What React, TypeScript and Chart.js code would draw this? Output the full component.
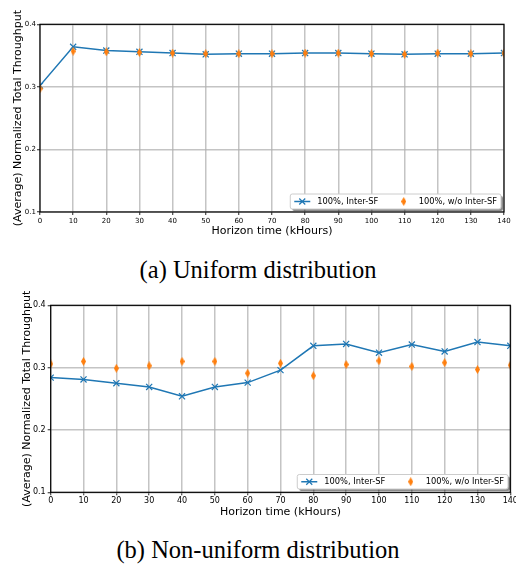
import { useEffect, useRef } from 'react';
import { Chart, registerables } from 'chart.js';

Chart.register(...registerables);

// ---------------- data ----------------
const hours = [0, 10, 20, 30, 40, 50, 60, 70, 80, 90, 100, 110, 120, 130, 140];
const uniformInterSF = [0.302, 0.364, 0.358, 0.356, 0.354, 0.352, 0.353, 0.353, 0.354, 0.354, 0.353, 0.352, 0.353, 0.353, 0.354];
const uniformNoInterSF = [0.297, 0.357, 0.356, 0.355, 0.354, 0.353, 0.353, 0.353, 0.354, 0.354, 0.353, 0.352, 0.354, 0.353, 0.354];
const nonUniformInterSF = [0.284, 0.281, 0.275, 0.269, 0.254, 0.269, 0.276, 0.296, 0.335, 0.338, 0.324, 0.337, 0.326, 0.341, 0.335];
const nonUniformNoInterSF = [0.306, 0.310, 0.299, 0.303, 0.310, 0.310, 0.291, 0.307, 0.287, 0.305, 0.311, 0.302, 0.308, 0.297, 0.304];
const xTicks = [0, 10, 20, 30, 40, 50, 60, 70, 80, 90, 100, 110, 120, 130, 140];
const yTicks = [0.1, 0.2, 0.3, 0.4];
const labelInterSF = '100%, Inter-SF';
const labelNoInterSF = '100%, w/o Inter-SF';
const xTitle = 'Horizon time (kHours)';
const yTitle = '(Average) Normalized Total Throughput';
const captionA = '(a) Uniform distribution';
const captionB = '(b) Non-uniform distribution';

// ---------------- styles ----------------
const BLUE = '#1f77b4';
const ORANGE = '#ff7f0e';
const FONT = '"DejaVu Sans", sans-serif';
const GRID = 'rgba(176,176,176,0.75)';

function makeThinDiamond(w: number, h: number, color: string) {
  const c = document.createElement('canvas');
  c.width = w;
  c.height = h;
  const ctx = c.getContext('2d')!;
  ctx.fillStyle = color;
  ctx.beginPath();
  ctx.moveTo(w / 2, 0);
  ctx.lineTo(w, h / 2);
  ctx.lineTo(w / 2, h);
  ctx.lineTo(0, h / 2);
  ctx.closePath();
  ctx.fill();
  return c;
}

function roundRectPath(ctx: CanvasRenderingContext2D, x: number, y: number, w: number, h: number, r: number) {
  ctx.beginPath();
  ctx.moveTo(x + r, y);
  ctx.lineTo(x + w - r, y);
  ctx.arcTo(x + w, y, x + w, y + r, r);
  ctx.lineTo(x + w, y + h - r);
  ctx.arcTo(x + w, y + h, x + w - r, y + h, r);
  ctx.lineTo(x + r, y + h);
  ctx.arcTo(x, y + h, x, y + h - r, r);
  ctx.lineTo(x, y + r);
  ctx.arcTo(x, y, x + r, y, r);
  ctx.closePath();
}

const legendPlugin = {
  id: 'mplLegend',
  afterDatasetsDraw(chart: any, _args: any, opts: any) {
    const { ctx, chartArea } = chart;
    const ds = chart.data.datasets;
    ctx.save();
    ctx.font = `8.3px ${FONT}`;
    const pad = 4, handle = 16, htp = 7, col = 17.5;
    const w1 = ctx.measureText(ds[0].label).width;
    const w2 = ctx.measureText(ds[1].label).width;
    const W = pad + handle + htp + w1 + col + handle + htp + w2 + pad;
    const H = opts.height;
    const right = chartArea.right - opts.offsetRight;
    const bottom = chartArea.bottom - opts.offsetBottom;
    const left = right - W;
    const top = bottom - H;
    ctx.fillStyle = 'rgba(0,0,0,0.45)';
    roundRectPath(ctx, left + 2, top + 2, W, H, 2);
    ctx.fill();
    ctx.fillStyle = '#ffffff';
    ctx.strokeStyle = '#cccccc';
    ctx.lineWidth = 1;
    roundRectPath(ctx, left, top, W, H, 2);
    ctx.fill();
    ctx.stroke();
    const cy = top + H / 2;
    let x = left + pad;
    ctx.strokeStyle = BLUE;
    ctx.lineWidth = 1.5;
    ctx.beginPath();
    ctx.moveTo(x, cy);
    ctx.lineTo(x + handle, cy);
    ctx.stroke();
    const mx = x + handle / 2;
    const d = 3;
    ctx.lineWidth = 1.2;
    ctx.beginPath();
    ctx.moveTo(mx - d, cy - d);
    ctx.lineTo(mx + d, cy + d);
    ctx.moveTo(mx - d, cy + d);
    ctx.lineTo(mx + d, cy - d);
    ctx.stroke();
    x += handle + htp;
    ctx.fillStyle = '#000';
    ctx.textBaseline = 'middle';
    ctx.textAlign = 'left';
    ctx.fillText(ds[0].label, x, cy);
    x += w1 + col;
    const img = ds[1].pointStyle as HTMLCanvasElement;
    ctx.drawImage(img, x + handle / 2 - img.width / 2, cy - img.height / 2);
    x += handle + htp;
    ctx.fillStyle = '#000';
    ctx.fillText(ds[1].label, x, cy);
    ctx.restore();
  },
};

const framePlugin = {
  id: 'frame',
  afterDraw(chart: any) {
    const { ctx, chartArea } = chart;
    ctx.save();
    ctx.strokeStyle = '#000';
    ctx.lineWidth = 1.2;
    ctx.strokeRect(chartArea.left, chartArea.top, chartArea.right - chartArea.left, chartArea.bottom - chartArea.top);
    ctx.restore();
  },
};

type Cfg = {
  inter: number[];
  noInter: number[];
  padTop: number;
  padRight: number;
  xAxisHeight: number;
  yAxisWidth: number;
  tickSize: number;
  xTickPad: number;
  yTickPad: number;
  xTitlePadBottom: number;
  yTitlePadTop: number;
  legendHeight: number;
  legendOffsetRight: number;
  legendOffsetBottom: number;
};

function makeConfig(cfg: Cfg): any {
  const diamond = makeThinDiamond(5, 9, ORANGE);
  return {
    type: 'line',
    data: {
      datasets: [
        {
          label: labelInterSF,
          data: hours.map((h, i) => ({ x: h, y: cfg.inter[i] })),
          borderColor: BLUE,
          backgroundColor: BLUE,
          borderWidth: 1.5,
          pointStyle: 'crossRot',
          pointRadius: 4.3,
          pointBorderWidth: 1.2,
          pointBorderColor: BLUE,
          pointBackgroundColor: BLUE,
          tension: 0,
          clip: 0,
          order: 1,
        },
        {
          label: labelNoInterSF,
          data: hours.map((h, i) => ({ x: h, y: cfg.noInter[i] })),
          showLine: false,
          borderColor: ORANGE,
          backgroundColor: ORANGE,
          pointStyle: diamond,
          pointRadius: 4,
          clip: 0,
          order: 0,
        },
      ],
    },
    options: {
      animation: false,
      responsive: false,
      events: [],
      layout: { padding: { left: 0, right: cfg.padRight, top: cfg.padTop, bottom: 0 } },
      plugins: {
        legend: { display: false },
        tooltip: { enabled: false },
        mplLegend: {
          height: cfg.legendHeight,
          offsetRight: cfg.legendOffsetRight,
          offsetBottom: cfg.legendOffsetBottom,
        },
      },
      scales: {
        x: {
          type: 'linear',
          min: 0,
          max: 140,
          afterBuildTicks: (s: any) => {
            s.ticks = xTicks.map((v) => ({ value: v }));
          },
          afterFit: (s: any) => {
            s.height = cfg.xAxisHeight;
            s.paddingLeft = 0;
            s.paddingRight = 0;
          },
          grid: { color: GRID, lineWidth: 1.5, drawTicks: true, tickLength: 3, tickColor: '#222', tickWidth: 1 },
          border: { display: false },
          ticks: {
            font: { family: FONT, size: cfg.tickSize },
            color: '#000',
            padding: cfg.xTickPad,
            maxRotation: 0,
            autoSkip: false,
            callback: (v: any) => String(v),
          },
          title: {
            display: true,
            text: xTitle,
            color: '#000',
            font: { family: FONT, size: 11 },
            padding: { top: 0, bottom: cfg.xTitlePadBottom },
          },
        },
        y: {
          type: 'linear',
          min: 0.1,
          max: 0.4,
          afterBuildTicks: (s: any) => {
            s.ticks = yTicks.map((v) => ({ value: v }));
          },
          afterFit: (s: any) => {
            s.width = cfg.yAxisWidth;
            s.paddingTop = 0;
            s.paddingBottom = 0;
          },
          grid: { color: GRID, lineWidth: 1.5, drawTicks: true, tickLength: 3, tickColor: '#222', tickWidth: 1 },
          border: { display: false },
          ticks: {
            font: { family: FONT, size: cfg.tickSize },
            color: '#000',
            padding: cfg.yTickPad,
            autoSkip: false,
            callback: (v: any) => Number(v).toFixed(1),
          },
          title: {
            display: true,
            text: yTitle,
            color: '#000',
            font: { family: FONT, size: 11 },
            padding: { top: cfg.yTitlePadTop, bottom: 0 },
          },
        },
      },
    },
    plugins: [legendPlugin, framePlugin],
  };
}

function ChartCanvas({ cfg, top }: { cfg: Cfg; top: number }) {
  const ref = useRef<HTMLCanvasElement>(null);
  useEffect(() => {
    if (!ref.current) return;
    const chart = new Chart(ref.current, makeConfig(cfg));
    return () => chart.destroy();
  }, []);
  return (
    <canvas
      ref={ref}
      width={516}
      height={242}
      style={{ position: 'absolute', left: 0, top, width: 516, height: 242, display: 'block' }}
    />
  );
}

const cfgA: Cfg = {
  inter: uniformInterSF,
  noInter: uniformNoInterSF,
  padTop: 24.3,
  padRight: 12,
  xAxisHeight: 30,
  yAxisWidth: 40,
  tickSize: 7,
  xTickPad: 1.5,
  yTickPad: 1,
  xTitlePadBottom: 3.9,
  yTitlePadTop: 11.4,
  legendHeight: 15,
  legendOffsetRight: 3,
  legendOffsetBottom: 3,
};

const cfgB: Cfg = {
  inter: nonUniformInterSF,
  noInter: nonUniformNoInterSF,
  padTop: 20.3,
  padRight: 5.7,
  xAxisHeight: 34.7,
  yAxisWidth: 50.7,
  tickSize: 8,
  xTickPad: 0.5,
  yTickPad: 2,
  xTitlePadBottom: 8.4,
  yTitlePadTop: 20.1,
  legendHeight: 14.5,
  legendOffsetRight: 2.3,
  legendOffsetBottom: 3.3,
};

const captionStyle: any = {
  position: 'absolute',
  left: 0,
  width: 516,
  textAlign: 'center',
  fontFamily: '"Liberation Serif", "Times New Roman", serif',
  fontSize: 24.5,
  lineHeight: '28px',
  color: '#000',
  whiteSpace: 'nowrap',
};

export default function App() {
  return (
    <div style={{ position: 'absolute', left: 0, top: 0, width: 516, height: 564, background: '#fff', overflow: 'hidden' }}>
      <ChartCanvas cfg={cfgA} top={0} />
      <div style={{ ...captionStyle, top: 256 }}>{captionA}</div>
      <ChartCanvas cfg={cfgB} top={285} />
      <div style={{ ...captionStyle, top: 536 }}>{captionB}</div>
    </div>
  );
}
